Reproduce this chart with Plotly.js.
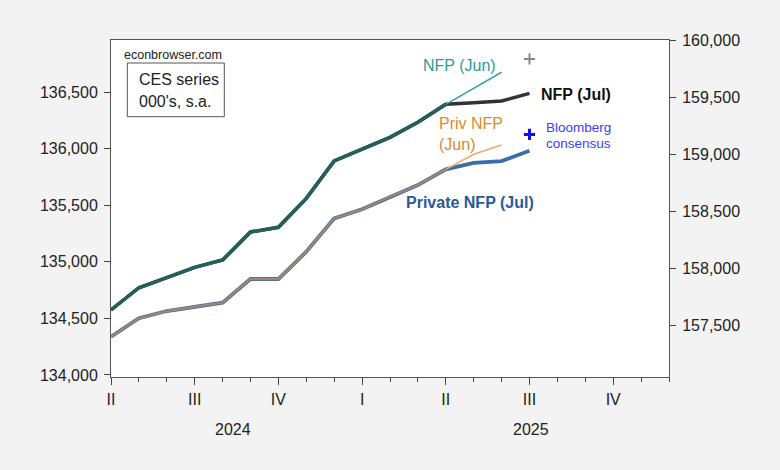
<!DOCTYPE html>
<html>
<head>
<meta charset="utf-8">
<script src="https://cdn.plot.ly/plotly-3.0.1.min.js"></script>
<style>
html,body{margin:0;padding:0;background:#f3f3f3;}
#chart{width:780px;height:470px;}
</style>
</head>
<body>
<div id="chart"></div>
<script>
// Months indexed from Apr 2024 (0) to Jul 2025 (15)
var monthIdx = [0,1,2,3,4,5,6,7,8,9,10,11,12,13,14,15];
var quarterTickVals = [0,3,6,9,12,15,18];
var quarterTickText = ['II','III','IV','I','II','III','IV'];
var yearLabels = ['2024','2025'];

// Total nonfarm payrolls, 000's s.a. (right axis)
var nfpJul = [157632,157827,157915,158006,158070,158316,158357,158611,158939,159041,159146,159278,159436,159450,159465,159532];
var nfpJun = [157632,157827,157915,158006,158070,158316,158357,158611,158939,159041,159146,159278,159436,159576,159717];
// Private nonfarm payrolls, 000's s.a. (left axis)
var privJul = [134338,134501,134565,134603,134639,134848,134848,135089,135384,135464,135575,135678,135817,135875,135890,135981];
var privJun = [134338,134501,134565,134603,134639,134848,134848,135089,135384,135464,135575,135678,135817,135950,136032];
// Bloomberg consensus for Jul 2025
var consMonth = 15;
var nfpCons = 159834;
var privCons = 136126;

// plot-area geometry in pixels (for annotation placement)
var L = 111, R = 669, T = 40, B = 377;
function px(x){ return (x - L)/(R - L); }
function py(y){ return (B - y)/(B - T); }

function lastCommon(a, b){
  var k = 0;
  for (var i = 0; i < Math.min(a.length, b.length); i++) { if (a[i] === b[i]) k = i; else break; }
  return k;
}
var kN = lastCommon(nfpJul, nfpJun);
var kP = lastCommon(privJul, privJun);

var traces = [
  {x: monthIdx, y: nfpJul, yaxis:'y2', mode:'lines', line:{color:'#333333', width:3.5}},
  {x: monthIdx.slice(0,kN+1), y: nfpJun.slice(0,kN+1), yaxis:'y2', mode:'lines', line:{color:'#23605a', width:3.5}},
  {x: monthIdx.slice(kN, nfpJun.length), y: nfpJun.slice(kN), yaxis:'y2', mode:'lines', line:{color:'#3aa39b', width:1.5}},
  {x: monthIdx, y: privJul, yaxis:'y', mode:'lines', line:{color:'#3b6ea6', width:3.8}},
  {x: monthIdx.slice(0,kP+1), y: privJun.slice(0,kP+1), yaxis:'y', mode:'lines', line:{color:'#a08570', width:2.4}},
  {x: monthIdx.slice(kP, privJun.length), y: privJun.slice(kP), yaxis:'y', mode:'lines', line:{color:'#eeaa68', width:1.5}},
  {x: [consMonth], y: [nfpCons], yaxis:'y2', mode:'markers', marker:{symbol:'cross-thin', size:8, line:{color:'#888888', width:2}}},
  {x: [consMonth], y: [privCons], yaxis:'y', mode:'markers', marker:{symbol:'cross-thin', size:8, line:{color:'#1010ee', width:3}}}
];

var font = {family:'"Liberation Sans", Arial, sans-serif', size:16, color:'#222'};

function ann(text, x, y, opts){
  var a = {text:text, xref:'paper', yref:'paper', x:px(x), y:py(y), showarrow:false,
           xanchor:'left', yanchor:'middle', font:{family:font.family, size:16, color:'#222'}};
  for (var k in opts) { if (k === 'font') { for (var f in opts.font) a.font[f] = opts.font[f]; } else a[k] = opts[k]; }
  return a;
}

var layout = {
  width:780, height:470,
  paper_bgcolor:'#f3f3f3', plot_bgcolor:'#ffffff',
  margin:{l:L, r:780-R, t:T, b:470-B},
  showlegend:false,
  font:font,
  xaxis:{
    range:[0,20], tickmode:'array', tickvals:quarterTickVals, ticktext:quarterTickText,
    ticks:'outside', ticklen:7, tickcolor:'#444', tickwidth:1,
    showline:true, linecolor:'#555', linewidth:1, mirror:true,
    showgrid:false, zeroline:false, ticklabelstandoff:1,
    minor:{tickmode:'linear', tick0:0, dtick:1, ticks:'outside', ticklen:4, tickcolor:'#444', showgrid:false},
    tickfont:{size:16, color:'#222'}
  },
  yaxis:{
    range:[133982,136960], tickmode:'linear', tick0:134000, dtick:500, tickformat:',d',
    ticks:'outside', ticklen:6, tickcolor:'#444', showline:true, linecolor:'#555', linewidth:1,
    showgrid:false, zeroline:false, ticklabelstandoff:3, tickfont:{size:16, color:'#222'}
  },
  yaxis2:{
    overlaying:'y', side:'right', range:[157044,160000], tickmode:'linear', tick0:157500, dtick:500, tickformat:',d',
    ticks:'outside', ticklen:6, tickcolor:'#444', showline:true, linecolor:'#555', linewidth:1,
    showgrid:false, zeroline:false, ticklabelstandoff:3, tickfont:{size:16, color:'#222'}
  },
  shapes:[
    {type:'rect', xref:'paper', yref:'paper', x0:px(127.3), x1:px(224.3), y0:py(116.7), y1:py(63),
     line:{color:'#555', width:1}, fillcolor:'rgba(0,0,0,0)'}
  ],
  annotations:[
    ann('econbrowser.com', 122, 55, {font:{size:12.5}}),
    ann('CES series', 136.5, 79, {}),
    ann("000's, s.a.", 136.5, 101, {}),
    ann('NFP (Jun)', 459, 65.5, {xanchor:'center', font:{color:'#2a9d95'}}),
    ann('<b>NFP (Jul)</b>', 538.5, 94, {font:{color:'#111'}}),
    ann('Priv NFP', 437, 123.5, {font:{color:'#d98a2b'}}),
    ann('(Jun)', 437, 144, {font:{color:'#d98a2b'}}),
    ann('Bloomberg', 543.5, 127, {font:{size:13.5, color:'#3b3bff'}}),
    ann('consensus', 543.5, 143.5, {font:{size:13.5, color:'#3b3bff'}}),
    ann('<b>Private NFP (Jul)</b>', 403.5, 202.5, {font:{color:'#2a5a98'}}),
    ann(yearLabels[0], 233, 429, {xanchor:'center'}),
    ann(yearLabels[1], 530.5, 429, {xanchor:'center'})
  ]
};

Plotly.newPlot('chart', traces, layout, {displayModeBar:false, staticPlot:true});
</script>
</body>
</html>
